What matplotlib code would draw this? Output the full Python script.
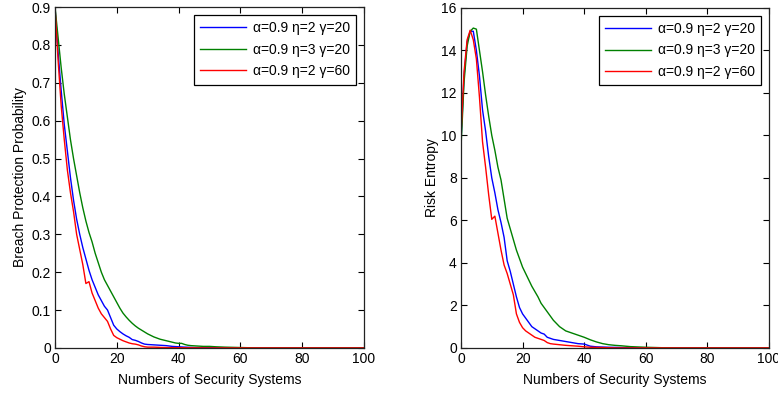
import matplotlib
matplotlib.use("Agg")
import matplotlib.pyplot as plt

plt.rcParams['font.family'] = ['Liberation Sans', 'DejaVu Sans']
plt.rcParams['font.size'] = 10

# legend labels
labels = ["α=0.9 η=2 γ=20", "α=0.9 η=3 γ=20", "α=0.9 η=2 γ=60"]

# --- Breach Protection Probability (left) ---
bpp_blue_x = [0, 1, 2, 3, 4, 5, 6, 7, 8, 9, 10, 11, 12, 13, 14, 15, 16, 17, 18, 19, 20,
              21, 22, 23, 24, 25, 26, 27, 28, 29, 30, 32, 34, 36, 38, 40, 42, 45, 50, 60, 100]
bpp_blue_y = [0.90, 0.78, 0.68, 0.59, 0.52, 0.45, 0.39, 0.34, 0.30, 0.265, 0.235, 0.205, 0.18,
              0.16, 0.14, 0.125, 0.11, 0.10, 0.08, 0.06, 0.05, 0.043, 0.037, 0.032, 0.028, 0.022,
              0.02, 0.017, 0.013, 0.01, 0.009, 0.008, 0.007, 0.006, 0.004, 0.003, 0.002, 0.001,
              0.0005, 0.0, 0.0]

bpp_green_x = [0, 1, 2, 3, 4, 5, 6, 7, 8, 9, 10, 11, 12, 13, 14, 15, 16, 17, 18, 19, 20,
               21, 22, 23, 24, 25, 26, 27, 28, 29, 30, 31, 32, 33, 34, 35, 36, 37, 38, 39, 40,
               41, 42, 43, 44, 46, 48, 50, 52, 55, 60, 65, 100]
bpp_green_y = [0.90, 0.82, 0.74, 0.67, 0.61, 0.55, 0.50, 0.455, 0.41, 0.37, 0.335, 0.305, 0.28,
               0.25, 0.225, 0.20, 0.18, 0.165, 0.15, 0.135, 0.12, 0.105, 0.092, 0.082, 0.073,
               0.065, 0.058, 0.052, 0.047, 0.042, 0.037, 0.033, 0.029, 0.026, 0.023, 0.021,
               0.019, 0.017, 0.015, 0.013, 0.012, 0.012, 0.009, 0.007, 0.006, 0.005, 0.004,
               0.004, 0.003, 0.002, 0.001, 0.0, 0.0]

bpp_red_x = [0, 1, 2, 3, 4, 5, 6, 7, 8, 9, 10, 11, 12, 13, 14, 15, 16, 17, 18, 19, 20,
             21, 22, 23, 24, 25, 26, 27, 28, 29, 30, 32, 35, 40, 50, 100]
bpp_red_y = [0.90, 0.76, 0.64, 0.55, 0.47, 0.41, 0.36, 0.30, 0.26, 0.22, 0.17, 0.175, 0.145,
             0.125, 0.105, 0.09, 0.08, 0.07, 0.05, 0.033, 0.027, 0.023, 0.019, 0.016, 0.013,
             0.011, 0.01, 0.008, 0.005, 0.003, 0.002, 0.002, 0.001, 0.0005, 0.0, 0.0]

# --- Risk Entropy (right) ---
re_blue_x = [0, 1, 2, 3, 4, 5, 6, 7, 8, 9, 10, 11, 12, 13, 14, 15, 16, 17, 18, 19, 20,
             21, 22, 23, 24, 25, 26, 27, 28, 29, 30, 32, 34, 36, 38, 40, 42, 44, 48, 55, 60, 100]
re_blue_y = [9.7, 12.8, 14.4, 14.9, 14.9, 14.0, 12.8, 11.2, 10.2, 9.0, 8.0, 7.3, 6.5, 5.9, 5.2,
             4.1, 3.6, 3.0, 2.4, 1.9, 1.6, 1.4, 1.2, 1.0, 0.9, 0.8, 0.7, 0.65, 0.5, 0.45, 0.4,
             0.35, 0.3, 0.25, 0.2, 0.18, 0.08, 0.05, 0.03, 0.01, 0.0, 0.0]

re_green_x = [0, 1, 2, 3, 4, 5, 6, 7, 8, 9, 10, 11, 12, 13, 14, 15, 16, 17, 18, 19, 20,
              21, 22, 23, 24, 25, 26, 27, 28, 29, 30, 31, 32, 33, 34, 35, 36, 38, 40, 42, 44,
              46, 48, 50, 52, 55, 60, 65, 70, 100]
re_green_y = [9.4, 12.5, 14.2, 14.9, 15.05, 15.0, 14.0, 13.0, 11.9, 10.9, 10.0, 9.3, 8.5, 7.9,
              7.0, 6.1, 5.6, 5.1, 4.6, 4.2, 3.8, 3.5, 3.2, 2.9, 2.65, 2.4, 2.1, 1.9, 1.7, 1.5,
              1.3, 1.15, 1.0, 0.9, 0.8, 0.75, 0.7, 0.6, 0.5, 0.38, 0.28, 0.2, 0.15, 0.12, 0.1,
              0.06, 0.03, 0.01, 0.0, 0.0]

re_red_x = [0, 1, 2, 3, 4, 5, 6, 7, 8, 9, 10, 11, 12, 13, 14, 15, 16, 17, 18, 19, 20,
            21, 22, 23, 24, 25, 26, 27, 28, 29, 30, 32, 34, 36, 38, 40, 42, 45, 50, 100]
re_red_y = [10.0, 13.0, 14.5, 14.95, 14.5, 13.6, 11.8, 9.7, 8.5, 7.2, 6.05, 6.2, 5.4, 4.6, 3.9,
            3.5, 3.0, 2.5, 1.6, 1.2, 0.95, 0.8, 0.7, 0.6, 0.5, 0.45, 0.4, 0.35, 0.25, 0.2, 0.18,
            0.15, 0.12, 0.1, 0.08, 0.05, 0.03, 0.02, 0.0, 0.0]

colors = ['#0000ff', '#008000', '#ff0000']

fig = plt.figure(figsize=(7.78, 3.94), dpi=100)
ax1 = fig.add_axes([0.0707, 0.117, 0.397, 0.865])
ax2 = fig.add_axes([0.5925, 0.117, 0.396, 0.863])


def style(ax):
    for s in ax.spines.values():
        s.set_color('#222222')
        s.set_linewidth(0.9)
    ax.tick_params(direction='in', top=True, right=True, length=4, width=0.8,
                   labelsize=10, pad=3)
    ax.set_xlim(0, 100)
    ax.set_xticks([0, 20, 40, 60, 80, 100])
    ax.set_xlabel("Numbers of Security Systems", fontsize=10, labelpad=5)
    ax.legend(loc='upper right', fancybox=False, edgecolor='black', framealpha=1,
              fontsize=10, handlelength=3.3, borderaxespad=0.55, labelspacing=0.55,
              handletextpad=0.5, borderpad=0.45).get_frame().set_linewidth(0.9)


# left
ax1.plot(bpp_blue_x, bpp_blue_y, color=colors[0], lw=1.0, label=labels[0])
ax1.plot(bpp_green_x, bpp_green_y, color=colors[1], lw=1.0, label=labels[1])
ax1.plot(bpp_red_x, bpp_red_y, color=colors[2], lw=1.0, label=labels[2])
ax1.set_ylim(0, 0.9)
ax1.set_yticks([0, 0.1, 0.2, 0.3, 0.4, 0.5, 0.6, 0.7, 0.8, 0.9])
ax1.set_yticklabels(["0", "0.1", "0.2", "0.3", "0.4", "0.5", "0.6", "0.7", "0.8", "0.9"])
ax1.set_ylabel("Breach Protection Probability", fontsize=10, labelpad=3)
style(ax1)

# right
ax2.plot(re_blue_x, re_blue_y, color=colors[0], lw=1.0, label=labels[0])
ax2.plot(re_green_x, re_green_y, color=colors[1], lw=1.0, label=labels[1])
ax2.plot(re_red_x, re_red_y, color=colors[2], lw=1.0, label=labels[2])
ax2.set_ylim(0, 16)
ax2.set_yticks([0, 2, 4, 6, 8, 10, 12, 14, 16])
ax2.set_ylabel("Risk Entropy", fontsize=10, labelpad=2)
style(ax2)

fig.savefig("out.png", dpi=100)
